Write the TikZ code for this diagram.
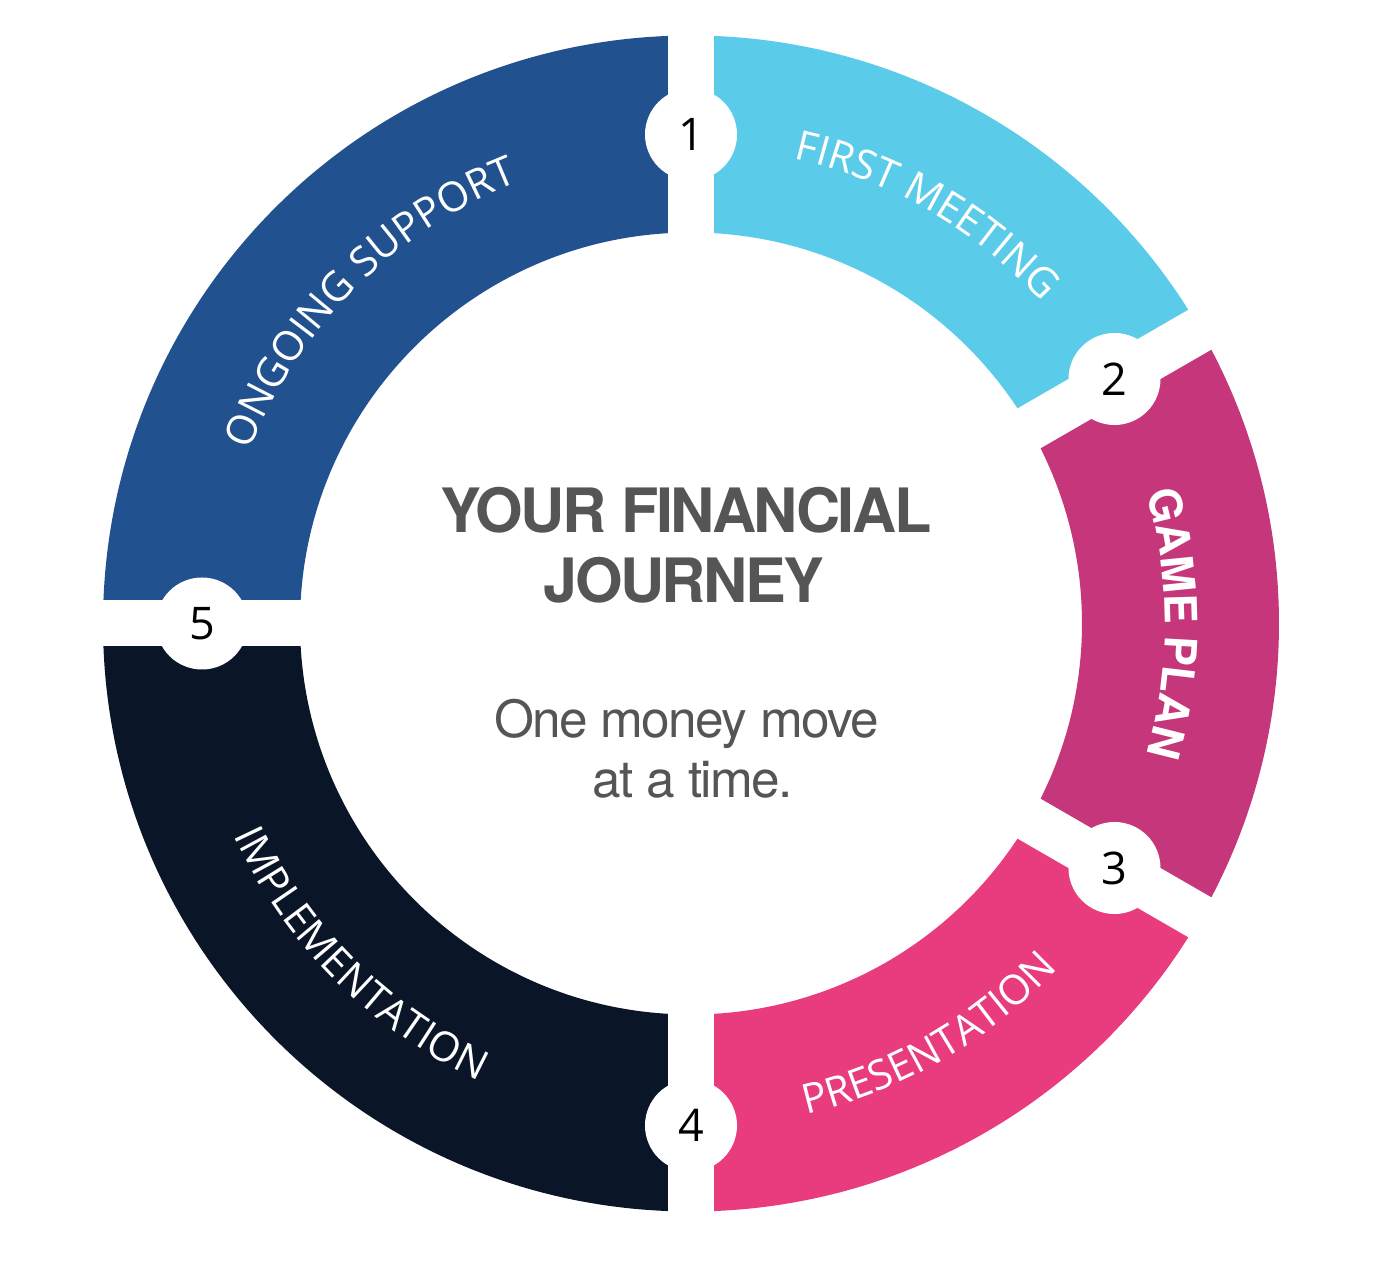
\documentclass[tikz,border=0pt]{standalone}
\usepackage{fontspec}
\usetikzlibrary{decorations.text}
\setmainfont{TeX Gyre Heros}
\newfontfamily\labelfont{Open Sans}
\newfontfamily\titlefont[LetterSpace=-4]{TeX Gyre Heros}
\newfontfamily\subfont[LetterSpace=-3]{TeX Gyre Heros}
\definecolor{support}{HTML}{21518F}
\definecolor{meeting}{HTML}{5BCBEA}
\definecolor{gameplan}{HTML}{C5367A}
\definecolor{presentation}{HTML}{E83C7F}
\definecolor{implement}{HTML}{0A1628}
\definecolor{textgray}{HTML}{555555}

\begin{document}
\begin{tikzpicture}
  \tikzset{
    gapband/.style={line width=0.46cm,white},
    numdot/.style={circle,fill=white,minimum size=0.92cm,inner sep=0pt,
      font=\labelfont\fontsize{12.8pt}{14pt}\selectfont},
    ringlabel/.style={decorate,decoration={text along path,text align=center,
      text color=white,text={#1}}},
    title/.style={anchor=base,text=textgray,
      font=\titlefont\bfseries\fontsize{17.4pt}{20pt}\selectfont},
    subtitle/.style={anchor=base,text=textgray,
      font=\subfont\fontsize{14.6pt}{17pt}\selectfont}
  }
  \useasboundingbox (-6.91,-6.465) rectangle (6.97,6.235);
  \coordinate (c) at (0,0);
  % ring segments
  \foreach \a/\b/\col in {90/180/support,30/90/meeting,-30/30/gameplan,
                          -90/-30/presentation,180/270/implement}
    \fill[\col] (\a:5.88) arc[start angle=\a,end angle=\b,radius=5.88]
      -- (\b:3.91) arc[start angle=\b,end angle=\a,radius=3.91] -- cycle;
  % gaps and step numbers
  \foreach \ang/\rad/\num in {90/4.89/1,30/4.89/2,-30/4.89/3,-90/5.02/4,180/4.89/5} {
    \draw[gapband] (c) -- (\ang:6.3);
    \node[numdot] (n\num) at (\ang:\rad) {\num};
  }
  % curved labels
  \path[ringlabel={|\labelfont\fontsize{11.7pt}{14pt}\selectfont|ONGOING SUPPORT}]
    (180:4.74) arc[start angle=180,end angle=90,radius=4.74];
  \path[ringlabel={|\labelfont\fontsize{11.7pt}{14pt}\selectfont|FIRST MEETING}]
    (90:4.76) arc[start angle=90,end angle=30,radius=4.76];
  \path[ringlabel={|\titlefont\bfseries\fontsize{12.7pt}{14pt}\selectfont|GAME PLAN}]
    (30:4.74) arc[start angle=30,end angle=-30,radius=4.74];
  \path[ringlabel={|\labelfont\fontsize{11.7pt}{14pt}\selectfont|PRESENTATION}]
    (-90:5.04) arc[start angle=-90,end angle=-30,radius=5.04];
  \path[ringlabel={|\labelfont\fontsize{11.7pt}{14pt}\selectfont|IMPLEMENTATION}]
    (180:5.04) arc[start angle=180,end angle=270,radius=5.04];
  % centre text
  \node[title] (title1) at (-0.05,0.905) {YOUR FINANCIAL};
  \node[title] (title2) at (-0.07,0.205) {JOURNEY};
  \node[subtitle] (sub1) at (-0.045,-1.145) {One money move};
  \node[subtitle] (sub2) at (0.02,-1.735) {at a time.};
\end{tikzpicture}
\end{document}
